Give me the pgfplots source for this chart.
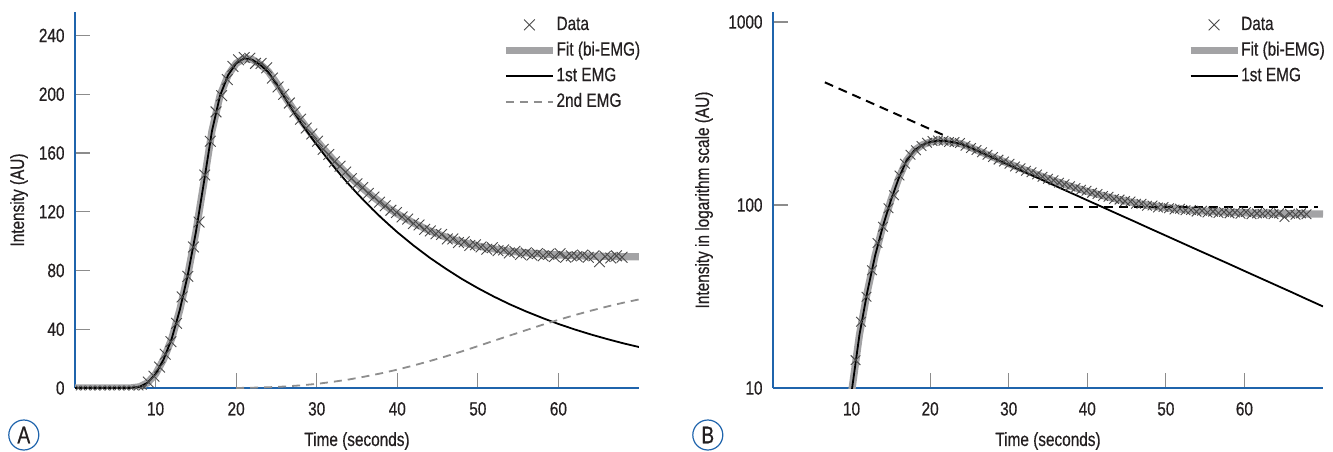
\documentclass[border=0pt]{standalone}
\usepackage{fontspec}
\setmainfont{Liberation Sans}[FakeStretch=0.8, FakeBold=0.5]
\usepackage{pgfplots}
\usepackage{pgfplotstable}
\pgfplotsset{compat=1.18}

\definecolor{axisblue}{HTML}{1F64AC}
\definecolor{fitgray}{HTML}{A3A3A5}
\definecolor{dashgray}{HTML}{8E8E8E}
\definecolor{tickgray}{HTML}{8C8C8C}
\definecolor{ink}{HTML}{231F20}
\definecolor{markgray}{HTML}{4A4A4A}

% measured data (crosses)
\pgfplotstableread{
x y
9.1 4
9.8 8
10.5 14.2
11.2 23
11.9 31.5
12.6 44
13.3 62
14.0 76
14.7 96
15.4 113
16.1 145
16.8 168
17.5 188
18.2 199
18.9 210
19.6 219
20.3 223.5
21.0 225
21.7 224.5
22.4 221
23.1 221
23.8 218
24.5 211
25.2 205
25.9 200
26.6 194
27.3 188
28.0 183
28.7 177
29.4 173
30.1 168
30.8 162.5
31.5 159
32.2 154
32.9 151
33.6 147
34.3 142.5
35.0 139
35.7 136.5
36.4 132.5
37.1 130
37.8 126.5
38.5 124
39.2 121
39.9 119.5
40.6 116.5
41.3 115
42.0 112
42.7 111
43.4 108
44.1 107
44.8 105
45.5 104.5
46.2 101.5
46.9 101.5
47.6 99
48.3 99.5
49.0 97
49.7 97.5
50.4 96
51.1 94.5
51.8 95.5
52.5 93.5
53.2 94
53.9 92
54.6 93
55.3 91
56.0 92
56.7 90.5
57.4 91.5
58.1 90
58.8 91
59.5 89.5
60.2 91.5
60.9 89
61.6 90
62.3 89.5
63.0 90.5
63.7 89
64.4 90
65.1 86
65.8 89.5
66.5 88.5
67.2 90
67.9 89
}\datatab

\pgfplotstableread{
x y
0.4 0
1.0 0
1.6 0
2.2 0
2.8 0
3.4 0
4.0 0
4.6 0
5.2 0
5.8 0
6.4 0
7.0 0
7.6 0
8.2 0
8.6 0.5
}\basetab

% bi-EMG fit
\pgfplotstableread{
x y
0 0
6 0
7 0.1
8 0.8
9 3.5
10 9.5
11 19.5
12 33.5
13 53
14 77
15 106
16 140
17 175
18 199
19 213
20 221
21 224.5
22 223.7
23 220.3
24 215.5
25 207.7
26 198.8
27 190.6
28 182.7
29 175.4
30 168.4
31 161.9
32 155.7
33 149.9
34 144.4
35 139.4
36 134.6
37 130.2
38 126.0
39 122.2
40 118.6
42 112.4
44 107.1
46 102.8
48 99.3
50 96.7
52 94.7
54 93.1
56 92.0
58 91.2
60 90.6
62 90.1
64 89.8
66 89.6
68 89.4
70 89.3
}\fittab

% 1st EMG
\pgfplotstableread{
x y
0 0
6 0
7 0.1
8 0.8
9 3.5
10 9.5
11 19.5
12 33.5
13 53
14 77
15 106
16 140
17 175
18 199
19 213
20 221
21 224.5
22 223.5
23 220
24 215
25 207
26 197.8
27 189.2
28 180.9
29 173.1
30 165.6
31 158.4
32 151.5
33 144.9
34 138.6
35 132.6
36 126.8
37 121.3
38 116.0
39 111.0
40 106.1
42 97.1
44 88.8
46 81.3
48 74.3
50 68.0
52 62.2
54 56.9
56 52.1
58 47.7
60 43.6
62 39.9
64 36.5
66 33.4
68 30.5
70 27.9
}\emgone

% 2nd EMG
\pgfplotstableread{
x y
20 0
22 0.2
24 0.5
26 1.0
28 1.8
30 2.8
32 4.2
34 5.8
36 7.8
38 10.0
40 12.5
42 15.3
44 18.3
46 21.5
48 24.9
50 28.5
52 32.2
54 35.8
56 39.4
58 43.0
60 46.4
62 49.6
64 52.6
66 55.4
68 58.0
70 60.3
}\emgtwo

\pgfplotsset{
  panel/.style={
    scale only axis, anchor=south west,
    height=188pt,
    axis lines=left,
    axis line style={-, draw=axisblue, line width=1pt},
    xmin=0, xmax=70,
    xtick={10,20,...,60},
    tick align=inside,
    major tick length=7.5pt,
    tick style={draw=tickgray, line width=0.6pt},
    font=\fontsize{9.6}{11.5}\selectfont,
    /pgf/number format/assume math mode=true,
    ticklabel style={text=ink},
    xticklabel style={yshift=-3.5pt},
    yticklabel style={xshift=-1.7pt},
    label style={text=ink},
    xlabel style={at={([yshift=-26.5pt]axis description cs:0.5,0)}, anchor=center},
    xlabel={Time (seconds)},
    legend cell align=left,
    legend style={anchor=north west, draw=none, fill=none, inner sep=0pt,
      row sep=3.7pt, column sep=0pt, text=ink,
      nodes={inner sep=0pt, text height=7.1pt, text depth=2pt}},
  },
  lineleg/.style={legend image code/.code={\draw[##1] (0pt,0pt) -- (23.5pt,0pt);}},
  markleg/.style={legend image code/.code={\draw[##1] plot coordinates {(11.75pt,0pt)};}},
  datastyle/.style={only marks, mark=x, mark size=3.8pt, mark options={draw=markgray, line width=0.45pt}},
  fitstyle/.style={fitgray, line width=3.6pt},
  onestyle/.style={black, line width=0.9pt},
  twostyle/.style={dashgray, line width=0.9pt, dash pattern=on 4pt off 3pt},
}

\begin{document}
\begin{tikzpicture}
\path[use as bounding box] (0,0) rectangle (666.5pt,225.5pt);

\begin{axis}[panel, at={(37.5pt,31.5pt)}, width=282pt,
  ymin=0, ymax=256, ytick={0,40,...,240},
  ylabel={Intensity (AU)},
  ylabel style={at={([xshift=-28pt]axis description cs:0,0.5)}, anchor=center},
  legend style={at={(0.757,0.991)}}]
  \addlegendimage{datastyle, markleg}
  \addlegendentry{Data}
  \addplot[fitstyle, lineleg] table {\fittab};
  \addlegendentry{Fit (bi-EMG)}
  \addplot[onestyle, lineleg] table {\emgone};
  \addlegendentry{1st EMG}
  \addplot[twostyle, lineleg] table {\emgtwo};
  \addlegendentry{2nd EMG}
  \addplot[datastyle, forget plot] table {\datatab};
  \addplot[only marks, mark=x, mark size=1.6pt, mark options={draw=markgray, line width=0.4pt}, forget plot] table {\basetab};
\end{axis}

\begin{axis}[panel, at={(386.5pt,31.5pt)}, width=275pt,
  ymode=log, ymin=10, ymax=1134, ytick={10,100,1000},
  yticklabels={10,100,1000}, yminorticks=false,
  ylabel={Intensity in logarithm scale (AU)},
  ylabel style={at={([xshift=-34.5pt]axis description cs:0,0.5)}, anchor=center},
  legend style={at={(0.752,0.991)}}]
  \addlegendimage{datastyle, markleg}
  \addlegendentry{Data}
  \addplot[fitstyle, lineleg] table[skip first n=2] {\fittab};
  \addlegendentry{Fit (bi-EMG)}
  \addplot[onestyle, lineleg] table[skip first n=2] {\emgone};
  \addlegendentry{1st EMG}
  \addplot[black, line width=1pt, dash pattern=on 4.5pt off 3pt, forget plot] coordinates {(6.6,468) (21.8,240)};
  \addplot[black, line width=1pt, dash pattern=on 4.5pt off 3pt, forget plot] coordinates {(32.6,97) (69.4,97)};
  \addplot[datastyle, mark size=3.4pt, forget plot] table {\datatab};
\end{axis}

\node[draw=axisblue, circle, line width=0.6pt, minimum size=15pt, inner sep=0pt,
  font=\fontsize{12}{14}\selectfont, text=ink] at (11.9pt,8pt) {A};
\node[draw=axisblue, circle, line width=0.6pt, minimum size=15pt, inner sep=0pt,
  font=\fontsize{12}{14}\selectfont, text=ink] at (353.9pt,8pt) {B};
\end{tikzpicture}
\end{document}
